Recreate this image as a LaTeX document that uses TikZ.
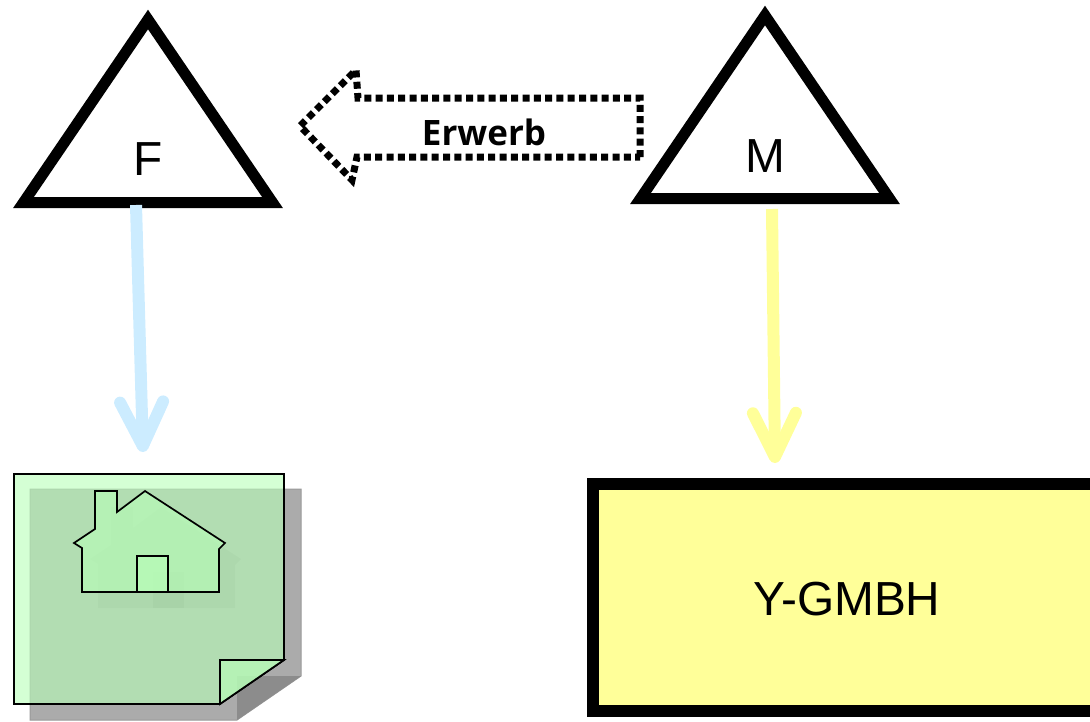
\documentclass[tikz,border=0pt]{standalone}
\usepackage{fontspec}
\setmainfont{Liberation Sans}
\newfontfamily\labelfont{Open Sans}
\usetikzlibrary{arrows.meta,shapes.geometric}

\tikzset{
  party/.style={isosceles triangle, isosceles triangle stretches, shape border rotate=90, draw=black,
    line width=11pt, fill=white, inner sep=0pt, minimum width=249pt, minimum height=183pt, anchor=lower side},
  name text/.style={font=\fontsize{47.8}{47.8}\selectfont, inner sep=0pt},
  holds/.style={line width=12pt, -{Straight Barb[length=44pt,width=43pt,round]}},
  paper/.style={draw=black, line width=1.7pt, fill={rgb,255:red,184;green,255;blue,184}, fill opacity=.6},
}

\begin{document}
\begin{tikzpicture}[x=1pt, y=-1pt]

\clip (0,0) rectangle (1090,721);

\node [party] (F) at (148,208) {};
\node [party] (M) at (765,204) {};
\node [name text] (F-name) at (148,159) {F};
\node [name text] (M-name) at (765,156) {M};

\node [draw=black, line width=12pt, fill={rgb,255:red,255;green,255;blue,153}, minimum width=508pt, minimum height=227pt,
  inner sep=0pt] (gmbh) at (847,597) {};
\node [name text] (gmbh-name) at (847,599) {Y-GMBH};

% shadow of the document
\path [fill=black!33, draw=black!40, line width=1pt] (30,489) -- (301,489) -- (301,676) -- (237,720) -- (30,720) -- cycle;
\path [fill=black!45] (237,720) -- (237,676) -- (301,676) -- cycle;
\path [fill=black, fill opacity=.07] (111,507) -- (133,507) -- (133,528) -- (161,507) -- (241,559) -- (235,565) -- (235,608)
  -- (98,608) -- (98,564) -- (90,559) -- (111,545) -- cycle;
\path [fill=black, fill opacity=.07] (153,572) rectangle (184,608);

% document with house
\draw [paper] (14,474) -- (284,474) -- (284,660) -- (220,704) -- (14,704) -- cycle;
\draw [paper] (220,704) -- (220,660) -- (284,660) -- cycle;
\draw [paper] (95,491) -- (117,491) -- (117,512) -- (145,491) -- (225,543) -- (219,549) -- (219,592)
  -- (82,592) -- (82,548) -- (74,543) -- (95,529) -- cycle;
\node [paper, minimum width=31pt, minimum height=36pt, inner sep=0pt] (door) at (152.5,574) {};

\coordinate (F-out) at (136,205);
\coordinate (doc-in) at (143,452);
\coordinate (M-out) at (772,209);
\coordinate (gmbh-in) at (775,463);

\draw [holds, draw={rgb,255:red,204;green,236;blue,255}] (F-out) -- (doc-in);
\draw [holds, draw={rgb,255:red,255;green,255;blue,153}] (M-out) -- (gmbh-in);

% acquisition arrow
\draw [line width=7pt, dash pattern=on 7pt off 4.3pt] (640,157) -- (640,98) -- (358,98) -- (356,70)
  -- (300,126) -- (352,180) -- (357,157) -- cycle;
\node [inner sep=0pt, font=\labelfont\bfseries\fontsize{35}{35}\selectfont] (erwerb) at (484,132) {Erwerb};

\end{tikzpicture}
\end{document}
